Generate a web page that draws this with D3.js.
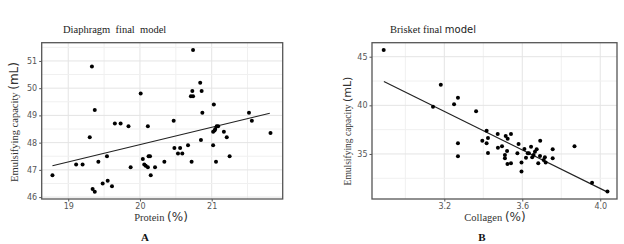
<!DOCTYPE html>
<html>
<head>
<meta charset="utf-8">
<script src="https://cdn.jsdelivr.net/npm/d3@7"></script>
<style>
  body { margin: 0; background: #fff; }
  svg { display: block; }
</style>
</head>
<body>
<svg id="chart" width="624" height="244"></svg>
<script>
// panel A: diaphragm, protein vs emulsifying capacity
const proteinA = [18.78, 19.11, 19.20, 19.33, 19.37, 19.30, 19.42, 19.54, 19.34, 19.37,
  19.48, 19.55, 19.61, 19.65, 19.73, 19.84, 19.87, 20.01, 20.04, 20.06,
  20.08, 20.11, 20.11, 20.12, 20.14, 20.15, 20.21, 20.34, 20.47, 20.48,
  20.53, 20.56, 20.59, 20.67, 20.72, 20.71, 20.74, 20.73, 20.74, 20.84,
  20.86, 20.85, 20.87, 21.03, 21.02, 21.02, 21.04, 21.05, 21.07, 21.06,
  21.09, 21.17, 21.21, 21.25, 21.52, 21.56, 21.82];
const capacityA = [46.8, 47.2, 47.2, 50.8, 49.2, 48.2, 47.3, 47.5, 46.3, 46.2,
  46.5, 46.6, 46.4, 48.7, 48.7, 48.6, 47.1, 49.8, 47.4, 47.2,
  47.15, 47.1, 48.6, 47.5, 47.5, 46.8, 47.1, 47.3, 48.8, 47.8,
  47.6, 47.8, 47.6, 47.9, 47.3, 49.7, 49.7, 49.9, 51.4, 50.2,
  49.9, 48.1, 49.1, 49.4, 48.4, 47.9, 48.45, 48.5, 48.6, 47.3,
  48.6, 48.4, 48.2, 47.5, 49.1, 48.8, 48.35];
const fitA = [[18.78, 47.15], [21.81, 49.08]];
const xTicksA = [19, 20, 21];
const yTicksA = [46, 47, 48, 49, 50, 51];

// panel B: brisket, collagen vs emulsifying capacity
const collagenB = [2.889, 3.142, 3.182, 3.250, 3.270, 3.270, 3.270, 3.363, 3.395, 3.417,
  3.417, 3.424, 3.424, 3.474, 3.475, 3.496, 3.515, 3.542, 3.525, 3.522,
  3.511, 3.511, 3.524, 3.542, 3.581, 3.575, 3.596, 3.596, 3.611, 3.619,
  3.628, 3.645, 3.634, 3.658, 3.665, 3.651, 3.692, 3.691, 3.710, 3.716,
  3.682, 3.720, 3.756, 3.756, 3.674, 3.868, 3.958, 4.037];
const capacityB = [45.69, 39.86, 42.12, 40.11, 40.79, 36.10, 34.76, 39.39, 36.37, 37.39,
  36.10, 36.64, 35.10, 37.06, 35.65, 35.79, 36.85, 37.06, 36.57, 35.31,
  34.90, 34.56, 33.97, 34.04, 36.03, 35.07, 34.13, 33.20, 35.51, 34.62,
  35.07, 35.75, 35.07, 34.90, 35.24, 34.66, 36.37, 34.79, 34.38, 34.66,
  34.04, 34.11, 35.48, 34.56, 35.48, 35.79, 32.05, 31.13];
const fitB = [[2.89, 42.45], [4.035, 31.1]];
const xTicksB = [3.2, 3.6, 4.0];
const yTicksB = [35, 40, 45];

const svg = d3.select("#chart");
const serif = "Liberation Serif, Times New Roman, serif";
const sans = "DejaVu Sans, Verdana, sans-serif";

function drawPanel(cfg) {
  const g = svg.append("g");
  const [left, right, top, bottom] = cfg.box;

  let x = d3.scaleLinear().domain(cfg.xDomain).range([left, right]);
  let y = d3.scaleLinear().domain(cfg.yDomain).range([bottom, top]);

  // minor + major grid
  g.append("g")
    .selectAll("line")
    .data(cfg.xGrid)
    .enter()
    .append("line")
    .attr("x1", (d) => x(d))
    .attr("x2", (d) => x(d))
    .attr("y1", top)
    .attr("y2", bottom)
    .attr("stroke", (d, i) => (cfg.xTicks.some((t) => Math.abs(t - d) < 1e-6) ? "#e4e4e4" : "#f0f0f0"))
    .attr("stroke-width", 1);

  g.append("g")
    .selectAll("line")
    .data(cfg.yGrid)
    .enter()
    .append("line")
    .attr("x1", left)
    .attr("x2", right)
    .attr("y1", (d) => y(d))
    .attr("y2", (d) => y(d))
    .attr("stroke", (d) => (cfg.yTicks.some((t) => Math.abs(t - d) < 1e-6) ? "#e4e4e4" : "#f0f0f0"))
    .attr("stroke-width", 1);

  // axes
  let xAxis = g
    .append("g")
    .attr("transform", `translate(0,${bottom})`)
    .call(d3.axisBottom(x).tickValues(cfg.xTicks).tickSize(2.5).tickPadding(2).tickFormat(cfg.xFormat));
  let yAxis = g
    .append("g")
    .attr("transform", `translate(${left},0)`)
    .call(d3.axisLeft(y).tickValues(cfg.yTicks).tickSize(2.5).tickPadding(2).tickFormat(d3.format("d")));
  [xAxis, yAxis].forEach((a) => {
    a.select(".domain").remove();
    a.selectAll("line").attr("stroke", "#555");
    a.selectAll("text")
      .attr("fill", "#555")
      .style("font-family", sans)
      .style("font-size", "8px");
  });

  // fit line
  g.append("path")
    .datum(cfg.fit)
    .attr("fill", "none")
    .attr("stroke", "#222")
    .attr("stroke-width", 1.2)
    .attr("d", d3.line().x((d) => x(d[0])).y((d) => y(d[1])));

  // points
  g.append("g")
    .selectAll("circle")
    .data(cfg.xs.map((v, i) => [v, cfg.ys[i]]))
    .enter()
    .append("circle")
    .attr("cx", (d) => x(d[0]))
    .attr("cy", (d) => y(d[1]))
    .attr("r", 2)
    .attr("fill", "#000");

  // panel border
  g.append("rect")
    .attr("x", left)
    .attr("y", top)
    .attr("width", right - left)
    .attr("height", bottom - top)
    .attr("fill", "none")
    .attr("stroke", "#555")
    .attr("stroke-width", 1.3);

  // title
  let title = g.append("text")
    .attr("x", cfg.titleX)
    .attr("y", 33)
    .attr("fill", "#222")
    .style("font-family", serif)
    .style("font-size", "10.5px");
  title.append("tspan").text(cfg.title[0]);
  if (cfg.title[1]) {
    title.append("tspan").style("font-family", sans).style("font-size", "10px").text(cfg.title[1]);
  }

  // y label
  let ylab = g.append("text")
    .attr("transform", `translate(${cfg.yLabX},${cfg.yLabY}) rotate(-90)`)
    .attr("text-anchor", "middle")
    .attr("fill", "#333")
    .style("font-family", serif)
    .style("font-size", cfg.yLabSize + "px");
  ylab.append("tspan").text("Emulsifying capacity ");
  ylab.append("tspan").style("font-family", sans).style("font-size", (cfg.yLabSize + 1.5) + "px").text("(mL)");

  // x label
  let xlab = g.append("text")
    .attr("x", cfg.xLabX)
    .attr("y", 221)
    .attr("text-anchor", "middle")
    .attr("fill", "#333")
    .style("font-family", serif)
    .style("font-size", "10.5px");
  xlab.append("tspan").text(cfg.xLabel + " ");
  xlab.append("tspan").style("font-family", sans).style("font-size", "12px").text("(%)");

  // panel letter
  g.append("text")
    .attr("x", cfg.letterX)
    .attr("y", 241)
    .attr("text-anchor", "middle")
    .attr("fill", "#111")
    .style("font-family", serif)
    .style("font-size", "11px")
    .style("font-weight", "bold")
    .text(cfg.letter);
}

drawPanel({
  box: [41.7, 282.7, 42.7, 199],
  xDomain: [18.63, 21.99],
  yDomain: [45.93, 51.67],
  xs: proteinA,
  ys: capacityA,
  fit: fitA,
  xTicks: xTicksA,
  yTicks: yTicksA,
  xGrid: [19, 19.5, 20, 20.5, 21, 21.5],
  yGrid: [46, 46.5, 47, 47.5, 48, 48.5, 49, 49.5, 50, 50.5, 51, 51.5],
  xFormat: d3.format("d"),
  title: ["Diaphragm\u00a0 final\u00a0 model"],
  titleX: 63,
  yLabX: 18,
  yLabY: 122,
  yLabSize: 10.5,
  xLabel: "Protein",
  xLabX: 161,
  letter: "A",
  letterX: 145,
});

drawPanel({
  box: [372, 617, 42.7, 199],
  xDomain: [2.829, 4.086],
  yDomain: [30.37, 46.44],
  xs: collagenB,
  ys: capacityB,
  fit: fitB,
  xTicks: xTicksB,
  yTicks: yTicksB,
  xGrid: [3.0, 3.2, 3.4, 3.6, 3.8, 4.0],
  yGrid: [32.5, 35, 37.5, 40, 42.5, 45],
  xFormat: d3.format(".1f"),
  title: ["Brisket final ", "model"],
  titleX: 390,
  yLabX: 351,
  yLabY: 131,
  yLabSize: 9.5,
  xLabel: "Collagen",
  xLabX: 495,
  letter: "B",
  letterX: 482,
});
</script>
</body>
</html>
